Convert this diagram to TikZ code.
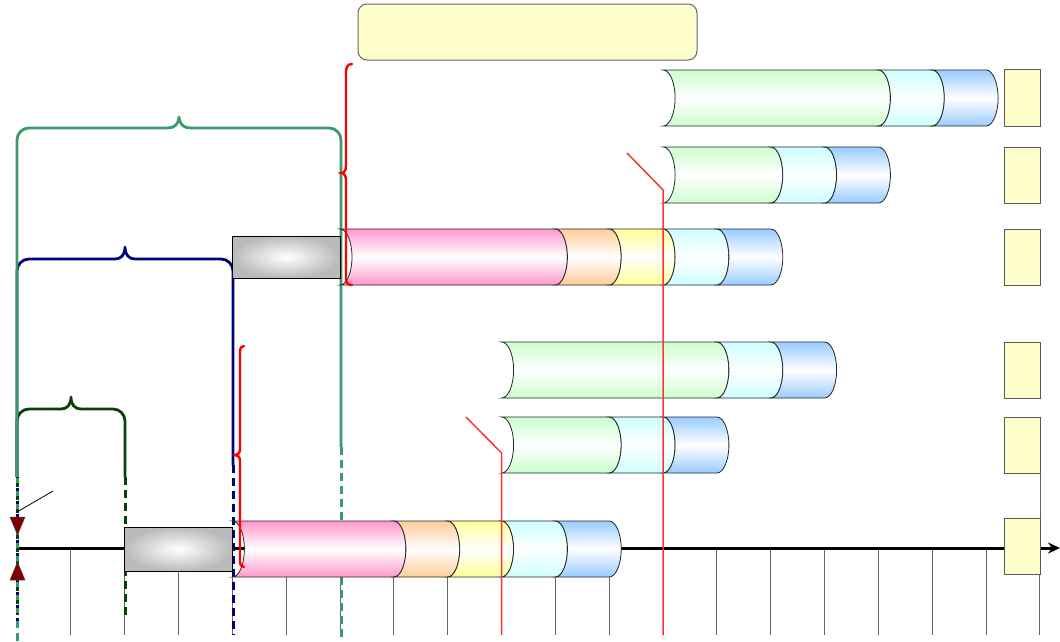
\documentclass[tikz,border=0pt]{standalone}
\usetikzlibrary{arrows.meta}
\definecolor{teal1}{RGB}{58,154,106}
\definecolor{navy1}{RGB}{0,0,128}
\definecolor{dgreen}{RGB}{10,64,10}
\definecolor{cpink}{RGB}{255,153,204}
\definecolor{corange}{RGB}{255,204,153}
\definecolor{cyellow}{RGB}{255,255,153}
\definecolor{ccyan}{RGB}{204,255,255}
\definecolor{cblue}{RGB}{153,204,255}
\definecolor{cgreen}{RGB}{204,255,204}
\definecolor{notefill}{RGB}{255,255,204}
\definecolor{markred}{RGB}{128,0,0}
\definecolor{redl}{RGB}{255,51,51}
% cylinder segment: x0, x1, top y, colour
\newcommand{\cylseg}[4]{%
\path[cylstyle, top color=#4, bottom color=#4, middle color=white]
 (#1,#3) -- (#2,#3) .. controls ({#2+6.6},#3) and ({#2+12},{#3+12.5}) .. ({#2+12},{#3+28})
 .. controls ({#2+12},{#3+43.5}) and ({#2+6.6},{#3+56}) .. (#2,{#3+56})
 -- (#1,{#3+56}) .. controls ({#1+6.6},{#3+56}) and ({#1+12},{#3+43.5}) .. ({#1+12},{#3+28})
 .. controls ({#1+12},{#3+12.5}) and ({#1+6.6},#3) .. (#1,#3) -- cycle;}
\tikzset{
  cylstyle/.style={draw=black!85, line width=0.8pt},
  tickline/.style={draw=black!60, line width=1pt},
  brk/.style={line width=2.8pt, line cap=round, line join=round},
  brkdash/.style={line width=3pt, dash pattern=on 8pt off 5pt},
  graybox/.style={draw=black, line width=0.8pt, inner sep=0pt, inner color=white, outer color=black!27, minimum width=108},
  ybox/.style={draw=black!65, line width=1pt, fill=notefill, inner sep=0pt, minimum width=36, minimum height=56},
  redbrace/.style={draw=red, line width=2.4pt, line cap=round},
  redline/.style={draw=redl, line width=1.5pt},
  marker/.style={fill=markred, draw=black!70, line width=0.5pt},
}
\begin{document}
\begin{tikzpicture}[x=1pt,y=-1pt]
\useasboundingbox (0,0) rectangle (1060,641);
% ticks
\foreach \k in {1,...,19} \draw[tickline] ({17+53.84*\k},548) -- ({17+53.84*\k},635);
\draw[tickline] (1040,473) -- (1040,548);
% axis
\coordinate (axL) at (17,548);
\coordinate (axR) at (1060,548);
\draw[line width=3pt, -{Stealth[length=12pt,width=11pt]}] (axL) -- (axR);
% dark green bracket
\draw[brk, dgreen, rounded corners=12] (17,477) -- (17,409) -- (55,409);
\draw[brk, dgreen] (55,409) -- (61,409) .. controls (67,409) and (71,405) .. (71,397) .. controls (71,405) and (75,409) .. (81,409) -- (88,409);
\draw[brk, dgreen, rounded corners=12] (88,409) -- (125,409) -- (125,477);
\draw[dgreen, line width=3pt, dash pattern=on 8pt off 5pt] (125,477) -- (125,615);
% navy bracket
\draw[brk, navy1, rounded corners=12] (17,477) -- (17,259) -- (60,259);
\draw[brk, navy1] (60,259) -- (115,259) .. controls (121,259) and (125,255) .. (125,247) .. controls (125,255) and (129,259) .. (135,259) -- (190,259);
\draw[brk, navy1, rounded corners=12] (190,259) -- (233,259) -- (233,465);
\draw[navy1, line width=3pt, dash pattern=on 8pt off 5pt] (233,465) -- (233,635);
% teal bracket
\draw[brk, teal1, rounded corners=12] (17,477) -- (17,128) -- (100,128);
\draw[brk, teal1] (100,128) -- (168,128) .. controls (174,128) and (179,124) .. (179,117) .. controls (179,124) and (184,128) .. (190,128) -- (260,128);
\draw[brk, teal1, rounded corners=12] (260,128) -- (341,128) -- (341,447);
\draw[teal1, line width=3pt, dash pattern=on 8pt off 5pt] (341,447) -- (341,641);
% left dashed line
\draw[teal1, line width=3pt, dash pattern=on 8pt off 5pt] (17,477) -- (17,641);
\draw[navy1, line width=3pt, dash pattern=on 3pt off 10pt, dash phase=2pt] (17,477) -- (17,625);
\draw[dgreen, line width=3pt, dash pattern=on 4pt off 9pt, dash phase=7pt] (17,477) -- (17,615);
% gray boxes
\node[graybox, minimum height=42] (gbox1) at (286,257) {};
\node[graybox, minimum height=44] (gbox2) at (178,549) {};
% top note
\node[draw=black!60, line width=1pt, fill=notefill, rounded corners=9, minimum width=339, minimum height=56, inner sep=0pt] (note) at (527.5,32) {};
% row A
\cylseg{663.1}{878.4}{70}{cgreen}
\cylseg{878.4}{932.3}{70}{ccyan}
\cylseg{932.3}{986.1}{70}{cblue}
% row B
\cylseg{663.1}{770.8}{147}{cgreen}
\cylseg{770.8}{824.6}{147}{ccyan}
\cylseg{824.6}{878.4}{147}{cblue}
% row C
\cylseg{340.0}{555.4}{229}{cpink}
\cylseg{555.4}{609.2}{229}{corange}
\cylseg{609.2}{663.1}{229}{cyellow}
\cylseg{663.1}{716.9}{229}{ccyan}
\cylseg{716.9}{770.8}{229}{cblue}
% row D
\cylseg{501.6}{716.9}{342}{cgreen}
\cylseg{716.9}{770.8}{342}{ccyan}
\cylseg{770.8}{824.6}{342}{cblue}
% row E
\cylseg{501.6}{609.2}{417}{cgreen}
\cylseg{609.2}{663.1}{417}{ccyan}
\cylseg{663.1}{716.9}{417}{cblue}
% row F
\cylseg{232.4}{393.9}{521}{cpink}
\cylseg{393.9}{447.7}{521}{corange}
\cylseg{447.7}{501.6}{521}{cyellow}
\cylseg{501.6}{555.4}{521}{ccyan}
\cylseg{555.4}{609.2}{521}{cblue}
% yellow boxes
\node[ybox, minimum height=57] (yA) at (1022,97.5) {};
\node[ybox] (yB) at (1022,175) {};
\node[ybox] (yC) at (1022,257) {};
\node[ybox] (yD) at (1022,370) {};
\node[ybox] (yE) at (1022,445) {};
\node[ybox] (yF) at (1022,546) {};
% red braces
\draw[redbrace] (352,64) .. controls (348,64) and (346,67) .. (346,72) -- (346,166) .. controls (346,170) and (344,173) .. (341.5,173) .. controls (344,173) and (346,176) .. (346,180) -- (346,278) .. controls (346,283) and (348,285) .. (352,285);
\draw[redbrace] (244,346) .. controls (241.5,346) and (240,348) .. (240,352) -- (240,449) .. controls (240,453) and (238,455) .. (235,455) .. controls (238,455) and (240,457) .. (240,461) -- (240,561) .. controls (240,565) and (241.5,567) .. (244,567);
% red lines
\coordinate (r1a) at (627,153);
\coordinate (r1b) at (663.1,190);
\coordinate (r1c) at (663.1,635);
\draw[redline] (r1a) -- (r1b) -- (r1c);
\coordinate (r2a) at (466,417);
\coordinate (r2b) at (501.6,453);
\coordinate (r2c) at (501.6,635);
\draw[redline] (r2a) -- (r2b) -- (r2c);
% markers
\draw[marker] (10,517) -- (25,517) -- (17.5,535) -- cycle;
\draw[marker] (10,580) -- (25,580) -- (17.5,562) -- cycle;
\coordinate (pa) at (17,512);
\coordinate (pb) at (53,491);
\draw[line width=0.8pt] (pa) -- (pb);
\end{tikzpicture}
\end{document}
